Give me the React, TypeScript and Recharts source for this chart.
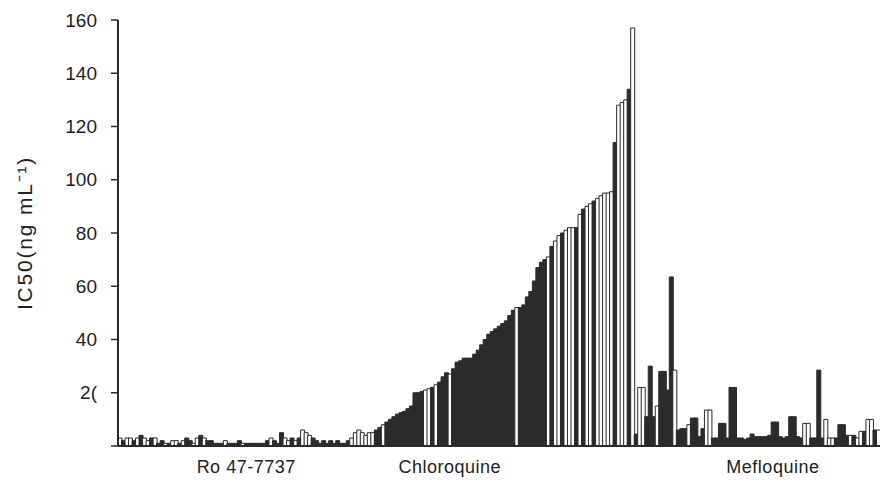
import { BarChart, Bar, XAxis, YAxis, Cell } from "recharts";

// IC50 per isolate, three drugs side by side
const roValues = [
  3, 2, 3, 3, 2, 3, 4, 3, 2, 3, 3, 1, 2, 1,
  1, 2, 2, 1, 2, 3, 2, 1, 3, 4, 3, 2,
  2, 1, 1, 1, 2, 1, 1, 1, 2, 1, 1, 1, 1, 1, 1,
  1, 2, 3, 2, 1, 5, 3, 2, 3, 2,
  3, 6, 5, 4, 3, 2, 1, 2, 1, 2,
  1, 2, 1, 1, 2, 3, 5, 6, 5, 4, 5,
];
const roOpen = "ofoofofoofoffo" + "foofoffoofof" + "ffffoffffofffff" + "ffofffoofo" + "foooffffff" + "fffffoooooo";

const cqValues = [
  5, 6, 7, 8, 9, 10, 11, 12, 12.5, 13,
  14, 15, 20, 20, 20.5, 21, 21.5, 22, 23, 24,
  26, 27.5, 27, 29, 31.5, 32, 33, 33, 33, 34.5,
  36, 38, 40, 42, 43, 44, 45, 46, 47, 49,
  51, 52, 52, 53, 56, 58, 62, 67, 69, 70,
  71, 75, 77, 79, 80, 81, 82, 82, 82, 87,
  89, 90, 91, 92, 93, 94, 95, 95, 95.5, 114,
  128, 129, 130, 134, 157,
];
const cqOpen = "offoffffff" + "fffffoofof" + "ffofffffff" + "ffffffffff" + "foffffffff" + "ofoofooofo" + "foofooooof" + "ooofo";

const mqValues = [
  4.5, 22, 22, 11, 30, 11, 15, 28, 28, 21,
  63.5, 28.5, 6, 6.5, 6.5, 8, 10.5, 10.5, 3.5, 6.5,
  13.5, 13.5, 3, 3, 8.5, 8.5, 3, 22, 22, 3,
  3, 2.5, 3, 4.5, 3.5, 3.5, 3.5, 3.5, 4, 9,
  9, 3.5, 3, 3.5, 11, 11, 3.5, 3, 8.5, 8.5,
  3, 3, 28.5, 3, 10, 3, 3, 3, 8, 8,
  4, 4, 4, 3, 5.5, 5.5, 10, 10, 6, 6,
];
const mqOpen = "foofffofff" + "fofffoffff" + "ooffffffff" + "ffffffffff" + "ffffffffoo" + "ffffooofff" + "fofoofoofo";

const groupLabels = ["Ro 47-7737", "Chloroquine", "Mefloquine"];
const groupLabelAt = [36, 94, 186];
const yTicks = [0, 20, 40, 60, 80, 100, 120, 140, 160];

const INK = "#2b2b2b";
const FONT = "'Liberation Sans', Arial, sans-serif";

const data = [
  ...roValues.map((v, i) => ({ value: v, open: roOpen[i] === "o" })),
  ...cqValues.map((v, i) => ({ value: v, open: cqOpen[i] === "o" })),
  ...mqValues.map((v, i) => ({ value: v, open: mqOpen[i] === "o" })),
].map((d, i) => ({ ...d, idx: i }));

function GroupTick({ x, y, payload }: any) {
  const k = groupLabelAt.indexOf(payload.value);
  if (k < 0) return null;
  return (
    <text x={x} y={y + 27} textAnchor="middle" fill="#222" fontSize={18} fontFamily={FONT} letterSpacing={0.5}>
      {groupLabels[k]}
    </text>
  );
}

export default function App() {
  return (
    <div style={{ width: 880, height: 480, background: "#fff" }}>
      <style>{"body{margin:0}"}</style>
      <BarChart
        width={880}
        height={480}
        data={data}
        barCategoryGap={0}
        barGap={0}
        margin={{ top: 20, right: 0, bottom: 0, left: 0 }}
      >
        <XAxis
          dataKey="idx"
          type="category"
          ticks={groupLabelAt}
          interval={0}
          height={34}
          tickLine={false}
          tickSize={0}
          tickMargin={0}
          tick={<GroupTick />}
          axisLine={{ stroke: INK, strokeWidth: 2 }}
        />
        <YAxis
          width={118}
          domain={[0, 160]}
          ticks={yTicks}
          interval={0}
          tickSize={7}
          tickMargin={14}
          tickLine={{ stroke: INK, strokeWidth: 1.5 }}
          axisLine={{ stroke: INK, strokeWidth: 2 }}
          tick={{ fill: "#1e1e1e", fontSize: 19, fontFamily: FONT }}
          tickFormatter={(v: number) => (v === 0 ? "" : v === 20 ? "2(" : String(v))}
          label={{
            value: "IC50(ng mL\u207B\u00B9)",
            angle: -90,
            position: "insideLeft",
            offset: 25,
            style: { textAnchor: "middle", fill: "#222", fontSize: 21, fontFamily: FONT, letterSpacing: 1.8 },
          }}
        />
        <Bar dataKey="value" isAnimationActive={false} stroke={INK} strokeWidth={1}>
          {data.map((d) => (
            <Cell key={d.idx} fill={d.open ? "#ffffff" : INK} />
          ))}
        </Bar>
      </BarChart>
    </div>
  );
}
